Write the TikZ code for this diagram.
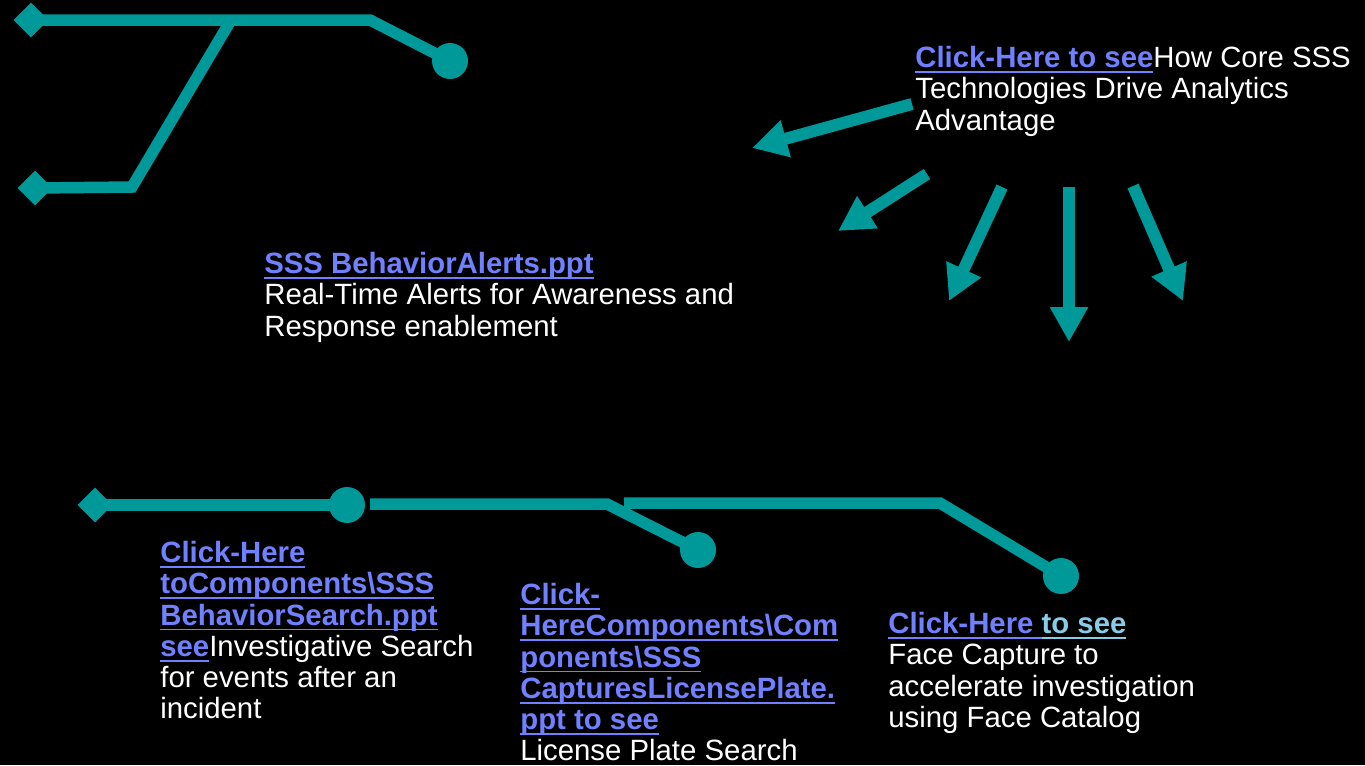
\documentclass[tikz,border=0pt]{standalone}
\usepackage{fontspec}
\setmainfont{Liberation Sans}
\usetikzlibrary{arrows.meta,shapes.geometric}
\definecolor{trackteal}{RGB}{0,153,153}
\definecolor{linkblue}{RGB}{112,128,255}
\definecolor{linkcyan}{RGB}{136,204,232}
\newcommand{\ulink}[2][linkblue]{{\color{#1}\bfseries\setbox0=\hbox{#2}\rlap{\rule[-3pt]{\wd0}{1pt}}\box0}}

\begin{document}
\begin{tikzpicture}[x=0.02cm,y=-0.02cm,
    wire/.style={draw=trackteal,line width=0.23cm},
    pointer/.style={draw=trackteal,line width=0.24cm,-{Triangle[length=0.7cm,width=0.72cm]}},
    diam/.style={diamond,fill=trackteal,inner sep=0,minimum size=0.7cm},
    dot/.style={circle,fill=trackteal,inner sep=0,minimum size=0.72cm},
    txt/.style={text=white,font=\fontsize{16.7}{17.8}\selectfont,align=left,anchor=north west,inner sep=0}]
        \fill[black] (0,0) rectangle (1365,765);
        % upper track
        \node[diam] (d1) at (31,20){};
        \node[diam] (d2) at (35,188){};
        \node[dot] (c1) at (450,61){};
        \coordinate (j1) at (370,20);
        \coordinate (j2) at (231,20);
        \coordinate (j3) at (132,187);
        \draw[wire] (d1.center)--(j1)--(c1.center);
        \draw[wire] (d2.center)--(j3)--(j2);
        % lower track
        \node[diam] (d3) at (95,505){};
        \node[dot] (c2) at (347,505){};
        \node[dot] (c3) at (698,550){};
        \node[dot] (c4) at (1061,576){};
        \coordinate (j4) at (370,504);
        \coordinate (j5) at (607,504);
        \coordinate (j6) at (624,503);
        \coordinate (j7) at (940,503);
        \draw[wire] (d3.center)--(c2.center);
        \draw[wire] (j4)--(j5)--(c3.center);
        \draw[wire] (j6)--(j7)--(c4.center);
        % arrows
        \foreach \i/\sx/\sy/\ex/\ey in {1/912/104/752/148,2/927/174/838/231,3/1002/187/949/301,4/1069/187/1069/342,5/1133/186/1183/301}
        {
            \coordinate (t\i) at (\sx,\sy);
            \coordinate (h\i) at (\ex,\ey);
            \draw[pointer] (t\i)--(h\i);
        }
        % texts
        \node[txt] (overview) at (915,46){\ulink{Click-Here to see}How Core SSS\\Technologies Drive Analytics\\Advantage};
        \node[txt] (alerts) at (264,252){\ulink{SSS BehaviorAlerts.ppt}\\Real-Time Alerts for Awareness and\\Response enablement};
        \node[txt] (search) at (160,541){\ulink{Click-Here}\\\ulink{toComponents\textbackslash SSS}\\\ulink{BehaviorSearch.ppt}\\\ulink{see}Investigative Search\\for events after an\\incident};
        \node[txt] (plates) at (520,583){\ulink{Click-}\\\ulink{HereComponents\textbackslash Com}\\\ulink{ponents\textbackslash SSS}\\\ulink{CapturesLicensePlate.}\\\ulink{ppt to see}\\License Plate Search};
        \node[txt] (faces) at (888,612){\ulink{Click-Here }\ulink[linkcyan]{to see}\\Face Capture to\\accelerate investigation\\using Face Catalog};
\end{tikzpicture}
\end{document}
